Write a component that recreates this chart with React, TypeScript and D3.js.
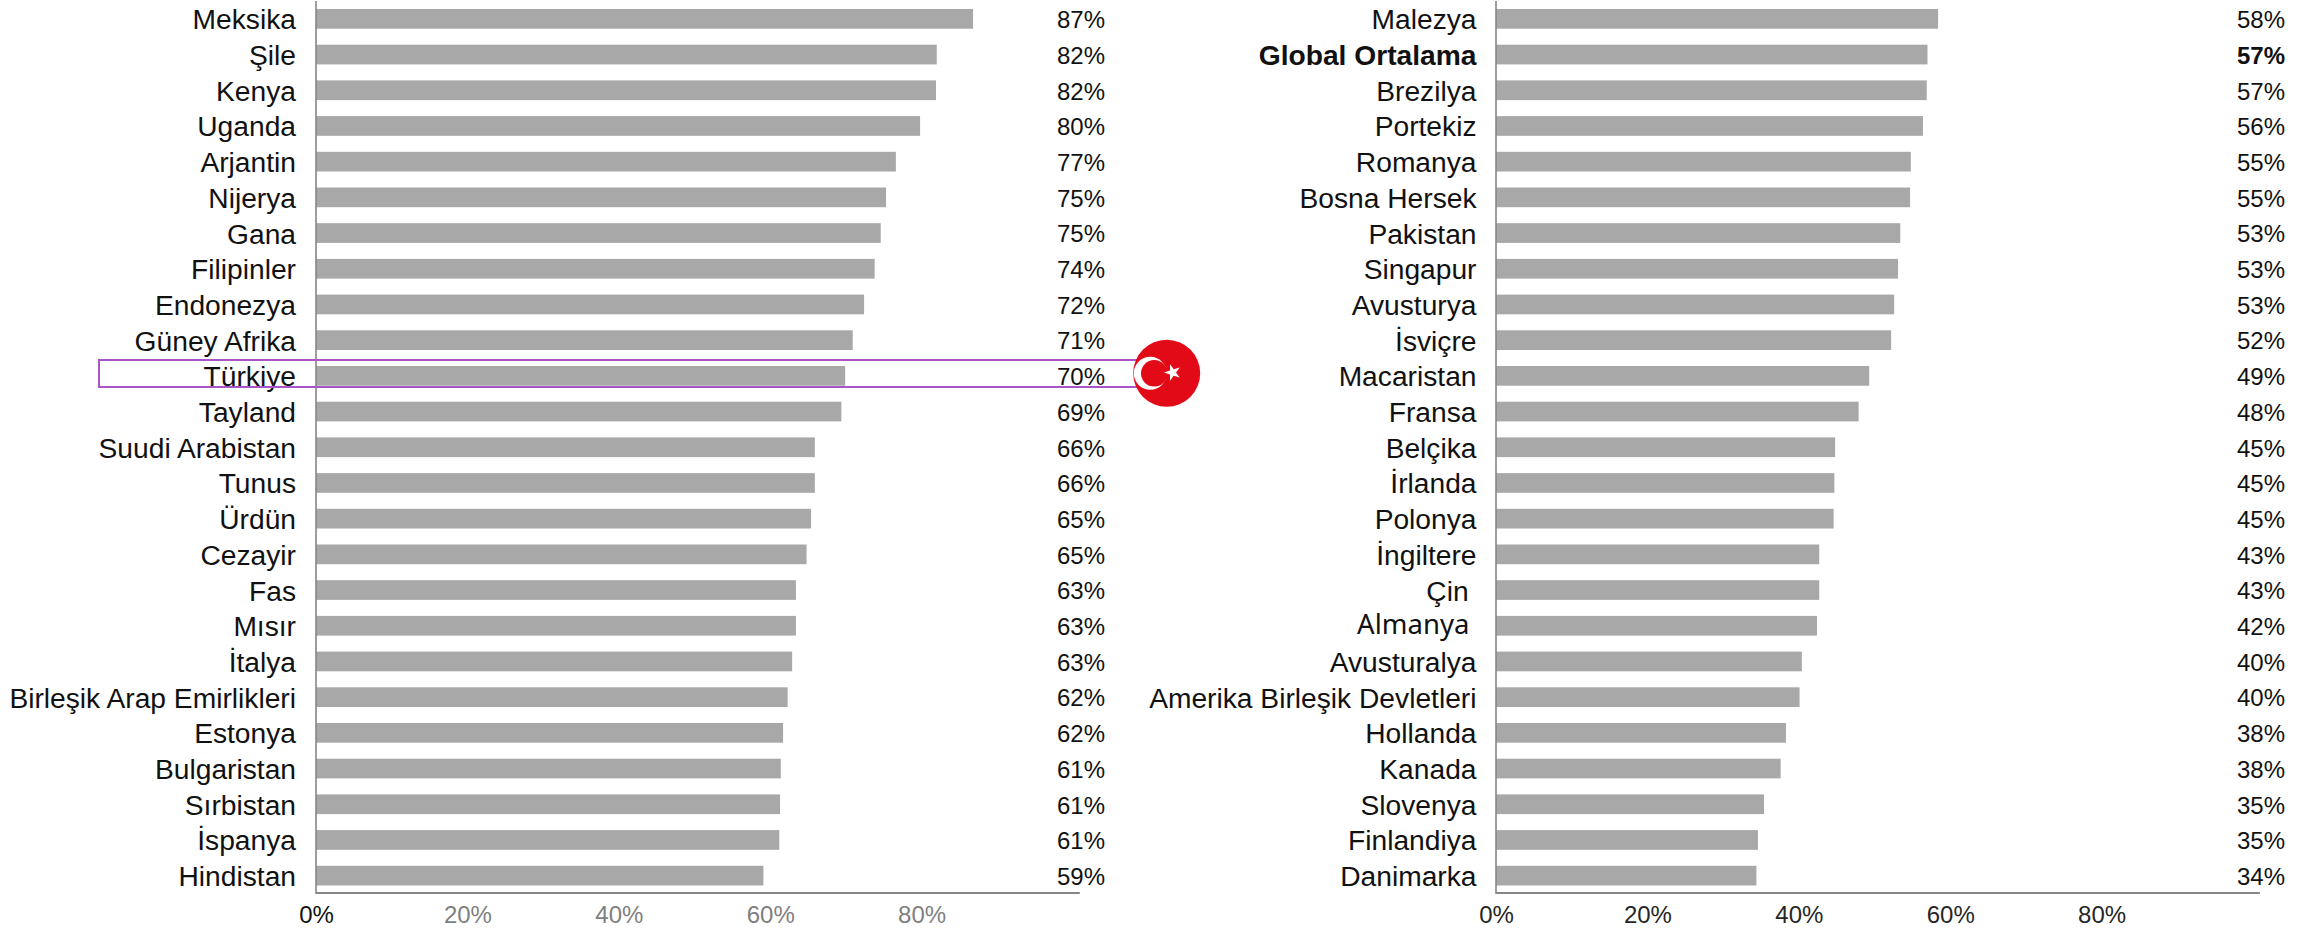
import React, { useEffect, useRef } from "react";
import * as d3 from "d3";

const leftCountries = [
  "Meksika", "Şile", "Kenya", "Uganda", "Arjantin", "Nijerya", "Gana", "Filipinler", "Endonezya",
  "Güney Afrika", "Türkiye", "Tayland", "Suudi Arabistan", "Tunus", "Ürdün", "Cezayir", "Fas", "Mısır",
  "İtalya", "Birleşik Arap Emirlikleri", "Estonya", "Bulgaristan", "Sırbistan", "İspanya", "Hindistan",
];
const leftValues = [
  86.8, 82.0, 81.9, 79.8, 76.6, 75.3, 74.6, 73.8, 72.4, 70.9, 69.9, 69.4, 65.9, 65.9, 65.4, 64.8, 63.4, 63.4,
  62.9, 62.3, 61.7, 61.4, 61.3, 61.2, 59.1,
];

const rightCountries = [
  "Malezya", "Global Ortalama", "Brezilya", "Portekiz", "Romanya", "Bosna Hersek", "Pakistan", "Singapur",
  "Avusturya", "İsviçre", "Macaristan", "Fransa", "Belçika", "İrlanda", "Polonya", "İngiltere", "Çin ",
  "Almanya ", "Avusturalya", "Amerika Birleşik Devletleri", "Hollanda", "Kanada", "Slovenya", "Finlandiya",
  "Danimarka",
];
const rightValues = [
  58.4, 57.0, 56.9, 56.4, 54.8, 54.7, 53.4, 53.1, 52.6, 52.2, 49.3, 47.9, 44.8, 44.7, 44.6, 42.7, 42.7, 42.4,
  40.4, 40.1, 38.3, 37.6, 35.4, 34.6, 34.4,
];

const tickValues = [0, 20, 40, 60, 80];

const FONT = "'Liberation Sans', Arial, sans-serif";
const BAR = "#a8a8a8";
const AXIS = "#868686";
const INK = "#111111";

type Panel = {
  names: string[];
  values: number[];
  x0: number;
  labelX: number;
  valueX: number;
  tickFill: (t: number) => string;
};

const drawPanel = (svg: any, p: Panel) => {
  const x = d3.scaleLinear().domain([0, 100]).range([p.x0, p.x0 + 757]);
  const y = d3
    .scaleBand()
    .domain(p.names)
    .range([1, 893.5])
    .paddingInner(0.448)
    .paddingOuter(0.224);

  const g = svg.append("g");
  const mid = (d: string) => y(d)! + y.bandwidth() / 2;

  g.append("g")
    .selectAll("rect")
    .data(p.names)
    .enter()
    .append("rect")
    .attr("x", p.x0)
    .attr("y", (d: string) => y(d))
    .attr("width", (_: string, i: number) => x(p.values[i]) - p.x0)
    .attr("height", y.bandwidth())
    .attr("fill", BAR);

  // country names, a couple of them were pasted in with another font
  g.append("g")
    .selectAll("text")
    .data(p.names)
    .enter()
    .append("text")
    .attr("x", p.labelX)
    .attr("y", (d: string) => mid(d) + (d === "Almanya " ? 8.2 : 10.5))
    .attr("text-anchor", "end")
    .attr("fill", INK)
    .style("white-space", "pre")
    .style("font-family", (d: string) => (d === "Almanya " ? "'Noto Sans'" : FONT))
    .style("font-size", (d: string) => (d === "Almanya " ? "27.5px" : "28.2px"))
    .style("font-weight", (d: string) => (d === "Global Ortalama" ? "bold" : "normal"))
    .text((d: string) => d);

  g.append("g")
    .selectAll("text")
    .data(p.names)
    .enter()
    .append("text")
    .attr("x", p.valueX)
    .attr("y", (d: string) => mid(d) + 9.3)
    .attr("text-anchor", "end")
    .attr("fill", INK)
    .style("font-family", FONT)
    .style("font-size", "24px")
    .style("font-weight", (d: string) => (d === "Global Ortalama" ? "bold" : "normal"))
    .text((_: string, i: number) => d3.format(".0f")(p.values[i]) + "%");

  // axes
  g.append("line")
    .attr("x1", p.x0)
    .attr("x2", p.x0)
    .attr("y1", 1)
    .attr("y2", 894)
    .attr("stroke", AXIS)
    .attr("stroke-width", 1.6);

  const axis = g
    .append("g")
    .attr("transform", "translate(0,893)")
    .call(
      d3
        .axisBottom(x)
        .tickValues(tickValues)
        .tickSize(0)
        .tickPadding(13)
        .tickFormat((t: any) => `${t}%`)
    );
  axis.select(".domain").remove();
  axis.append("line")
    .attr("x1", p.x0)
    .attr("x2", x(100.9))
    .attr("stroke", AXIS)
    .attr("stroke-width", 2);
  axis
    .selectAll(".tick text")
    .attr("fill", (t: number) => p.tickFill(t))
    .style("font-family", FONT)
    .style("font-size", "24px");
};

const App = () => {
  const ref = useRef<SVGSVGElement>(null);

  useEffect(() => {
    const svg = d3.select(ref.current);
    svg.selectAll("*").remove();

    drawPanel(svg, {
      names: leftCountries,
      values: leftValues,
      x0: 316,
      labelX: 296,
      valueX: 1105,
      tickFill: (t) => (t === 0 ? INK : "#7f7f7f"),
    });
    drawPanel(svg, {
      names: rightCountries,
      values: rightValues,
      x0: 1496,
      labelX: 1476.5,
      valueX: 2285,
      tickFill: () => "#262626",
    });

    // highlight around Türkiye
    svg
      .append("rect")
      .attr("x", 99)
      .attr("y", 360)
      .attr("width", 1060)
      .attr("height", 27)
      .attr("fill", "none")
      .attr("stroke", "#a855c8")
      .attr("stroke-width", 2);

    // flag
    const flag = svg.append("g").attr("transform", "translate(1166.7,373.3)");
    flag.append("circle").attr("r", 33.5).attr("fill", "#e30a17");
    flag.append("circle").attr("cx", -16.5).attr("r", 16.5).attr("fill", "#fff");
    flag.append("circle").attr("cx", -12.5).attr("r", 13.2).attr("fill", "#e30a17");
    flag
      .append("path")
      .attr("transform", "translate(6,-0.8) rotate(-90)")
      .attr("d", d3.symbol().type(d3.symbolStar).size(85)())
      .attr("fill", "#fff");
  }, []);

  return (
    <svg
      ref={ref}
      width={2310}
      height={930}
      style={{ position: "absolute", left: 0, top: 0, background: "#fff" }}
    />
  );
};

export default App;
